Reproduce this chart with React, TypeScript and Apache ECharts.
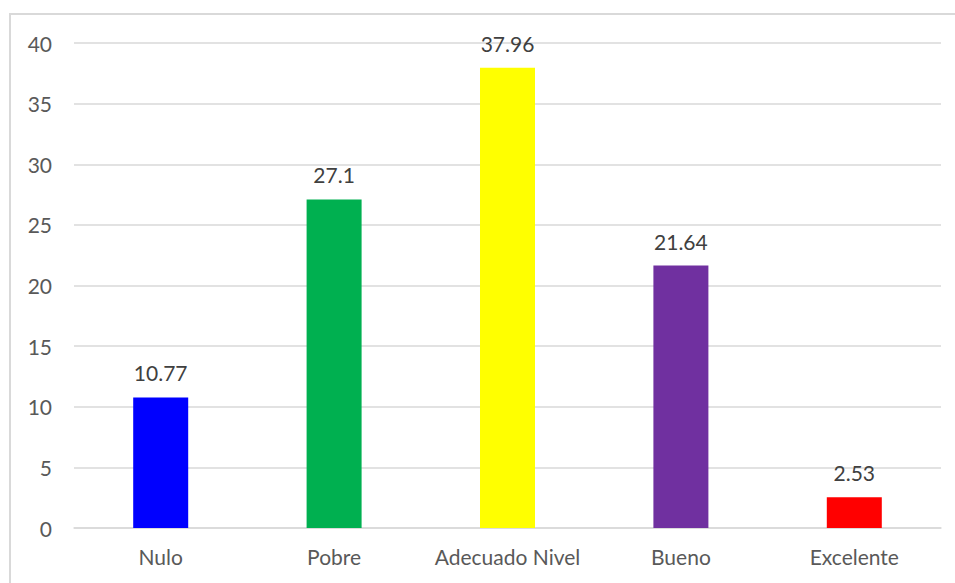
import React, { useEffect, useRef } from "react";
import * as echarts from "echarts";

const categories = ["Nulo", "Pobre", "Adecuado Nivel", "Bueno", "Excelente"];
const values = [10.77, 27.1, 37.96, 21.64, 2.53];
const colors = ["#0000FF", "#00B050", "#FFFF00", "#7030A0", "#FF0000"];
const valueLabels = ["10.77", "27.1", "37.96", "21.64", "2.53"];

export default function App() {
  const ref = useRef<HTMLDivElement>(null);
  useEffect(() => {
    const chart = echarts.init(ref.current!, null, { renderer: "svg" });
    const font = "Lato, 'Open Sans', sans-serif";
    chart.setOption({
      animation: false,
      textStyle: { fontFamily: font },
      graphic: [
        {
          type: "rect",
          shape: { x: 10, y: 14, width: 960, height: 600 },
          style: { fill: "none", stroke: "#d9d9d9", lineWidth: 2 },
          silent: true,
        },
      ],
      grid: { left: 74, right: 14, top: 43, bottom: 55 },
      xAxis: {
        type: "category",
        data: categories,
        axisLine: { show: true, lineStyle: { color: "#d9d9d9", width: 1.5 } },
        axisTick: { show: false },
        axisLabel: { color: "#595959", fontSize: 21, margin: 18, interval: 0, fontFamily: font },
      },
      yAxis: {
        type: "value",
        min: 0,
        max: 40,
        interval: 5,
        axisLine: { show: false },
        axisTick: { show: false },
        splitLine: { lineStyle: { color: "#d9d9d9", width: 1.5 } },
        axisLabel: { color: "#595959", fontSize: 21, margin: 22, fontFamily: font },
      },
      series: [
        {
          type: "bar",
          barWidth: 55,
          data: values.map((v, i) => ({ value: v, itemStyle: { color: colors[i] } })),
          label: {
            show: true,
            position: "top",
            distance: 14,
            color: "#404040",
            fontSize: 21,
            fontFamily: font,
            formatter: (p: any) => valueLabels[p.dataIndex],
          },
        },
      ],
    });
    return () => chart.dispose();
  }, []);
  return (
    <div
      ref={ref}
      style={{ position: "fixed", left: 0, top: 0, width: 955, height: 583, background: "#fff" }}
    />
  );
}
